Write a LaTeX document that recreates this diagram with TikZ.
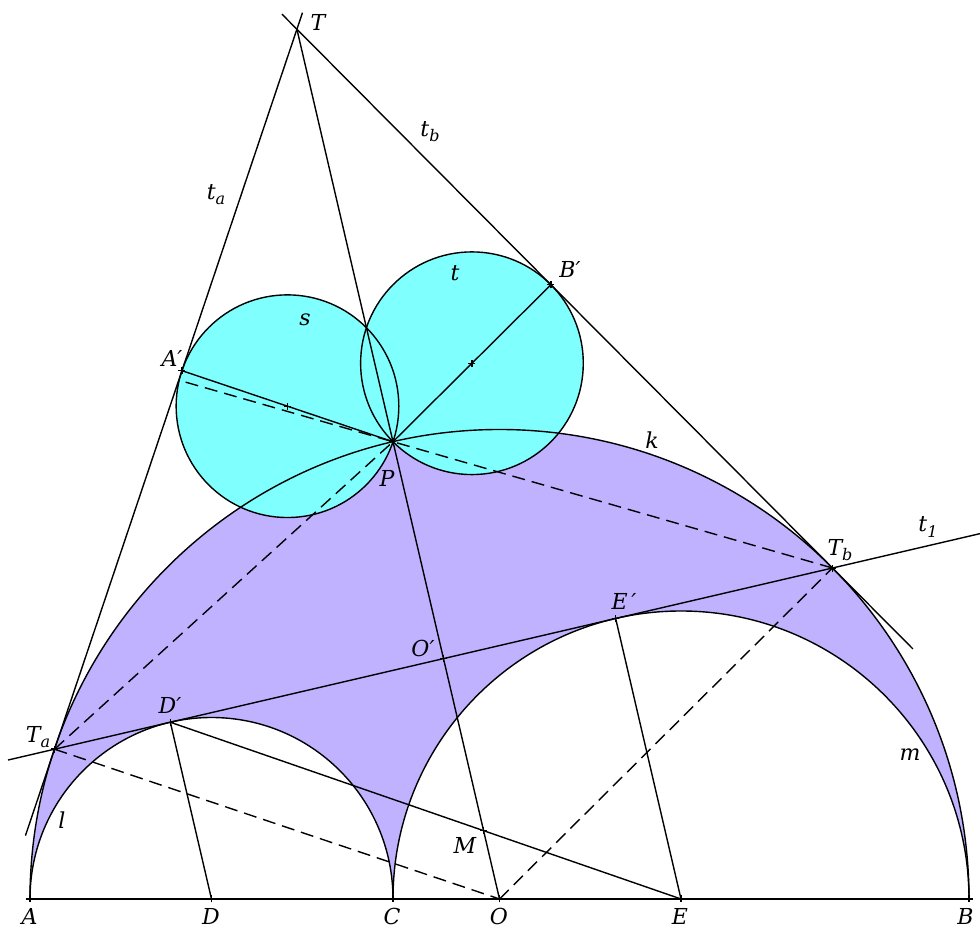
\documentclass[tikz,border=0pt]{standalone}
\usepackage{fontspec}
\setmainfont{DejaVu Serif}
\usetikzlibrary{calc}
\definecolor{arbcol}{RGB}{192,178,255}
\definecolor{twincol}{RGB}{128,255,255}
\newcommand\lsub[1]{\raisebox{-0.45ex}{\fontsize{16}{16}\selectfont #1}}
\newcommand\pmark[1]{\draw[line width=1.4pt] ($(#1)+(-3.5,0)$) -- ($(#1)+(3.5,0)$) ($(#1)+(0,-3.5)$) -- ($(#1)+(0,3.5)$);}
\begin{document}
\begin{tikzpicture}[x=1pt,y=1pt,
  ln/.style={line width=1.4pt},
  dsh/.style={line width=1.4pt,dash pattern=on 13pt off 7pt},
  lbl/.style={font=\fontsize{22}{26}\selectfont\itshape, inner sep=0pt}]
\useasboundingbox (-499.5,-30) rectangle (480.5,899);
% points
\coordinate (O) at (0,0);
\coordinate (A) at (-469.5,0);
\coordinate (B) at (469.5,0);
\coordinate (C) at (-106.5,0);
\coordinate (D) at (-288,0);
\coordinate (E) at (181.5,0);
\coordinate (Dp) at (-329.171,176.769);
\coordinate (Ep) at (116.171,280.493);
\coordinate (Op) at (-55.990,240.395);
\coordinate (Ta) at (-444.961,149.800);
\coordinate (Tb) at (332.981,330.990);
\coordinate (T) at (-202.577,869.769);
\coordinate (P) at (-106.500,457.262);
\coordinate (Ap) at (-317.533,528.308);
\coordinate (Bp) at (51.423,614.241);
\coordinate (S) at (-212.017,492.785);
\coordinate (Tt) at (-27.539,535.752);
\coordinate (Q) at (-320.732,518.815);
\coordinate (M) at (-15.916,68.334);
\coordinate (Lt1) at (-491.5,138.96);
\coordinate (Rt1) at (480.5,365.35);
% arbelos
\fill[arbcol] (A) arc[start angle=180,end angle=0,radius=469.5]
  arc[start angle=0,end angle=180,radius=288]
  arc[start angle=0,end angle=180,radius=181.5] -- cycle;
% twin circles
\fill[twincol] (S) circle[radius=111.335];
\fill[twincol] (Tt) circle[radius=111.335];
\draw[ln] (S) circle[radius=111.335];
\draw[ln] (Tt) circle[radius=111.335];
% semicircles
\draw[ln] (A) arc[start angle=180,end angle=0,radius=469.5];
\draw[ln] (C) arc[start angle=0,end angle=180,radius=181.5];
\draw[ln] (B) arc[start angle=0,end angle=180,radius=288];
\draw[ln] (A) -- (B);
% tangents
\draw[ln] ($(Ta)!-0.12!(T)$) -- ($(Ta)!1.023!(T)$);
\draw[ln] ($(T)!-0.028!(Tb)$) -- ($(T)!1.1503!(Tb)$);
\draw[ln] (Lt1) -- (Rt1);
\draw[ln] (T) -- (O);
\draw[ln] (Dp) -- (D);
\draw[ln] (Ep) -- (E);
\draw[ln] (Dp) -- (E);
\draw[ln] (Ap) -- (P);
\draw[ln] (Bp) -- (P);
% dashed
\draw[dsh] (Ta) -- (O);
\draw[dsh] (O) -- (Tb);
\draw[dsh] (Ta) -- (P);
\draw[dsh] (Tb) -- (Q);
% marks
\foreach \p in {A,D,C,O,E,B,Ta,Tb,Dp,Ep,Op,M,P,Ap,Bp,S,Tt} {\pmark{\p}}
% labels
\node[lbl] (lT) at (-181.5,877) {T};
\node[lbl] (ltb) at (-69.5,767) {t\lsub{b}};
\node[lbl] (lta) at (-283.5,704) {t\lsub{a}};
\node[lbl] (lt) at (-44.5,626) {t};
\node[lbl] (lBp) at (70.5,630) {B′};
\node[lbl] (ls) at (-194.5,579) {s};
\node[lbl] (lAp) at (-327.5,541) {A′};
\node[lbl] (lk) at (152.5,459) {k};
\node[lbl] (lP) at (-112.5,421) {P};
\node[lbl] (lt1) at (428.5,372) {t\lsub{1}};
\node[lbl] (lTb) at (340.5,349) {T\lsub{b}};
\node[lbl] (lEp) at (124.5,298) {E\,′};
\node[lbl] (lOp) at (-76.5,251) {O′};
\node[lbl] (lDp) at (-329.5,194) {D′};
\node[lbl] (lTa) at (-461.5,162) {T\lsub{a}};
\node[lbl] (lm) at (410.5,144) {m};
\node[lbl] (ll) at (-437.5,79) {l};
\node[lbl] (lM) at (-34.5,54) {M};
\node[lbl] (lA) at (-470,-17) {A};
\node[lbl] (lD) at (-288.5,-17) {D};
\node[lbl] (lC) at (-107.5,-17) {C};
\node[lbl] (lO) at (-0.5,-17) {O};
\node[lbl] (lE) at (180.5,-17) {E};
\node[lbl] (lB) at (466,-17) {B};
\end{tikzpicture}
\end{document}
